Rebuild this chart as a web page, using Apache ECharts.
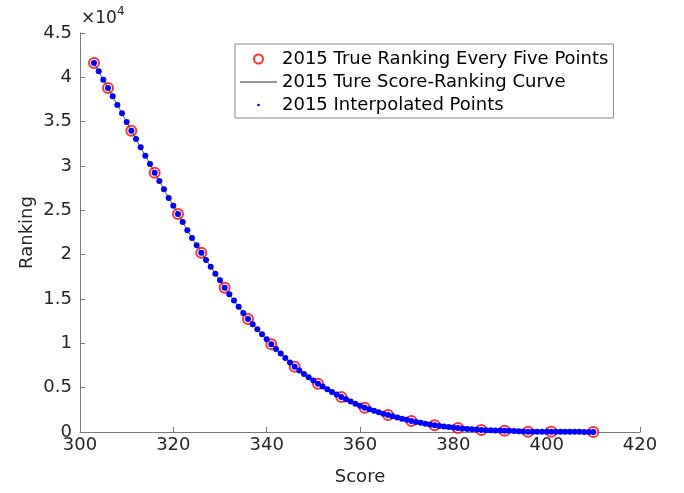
<!DOCTYPE html>
<html lang="en">

<head>
    <meta charset="UTF-8">
    <title>Score-Ranking 2015</title>
    <script src="https://cdn.jsdelivr.net/npm/echarts@6/dist/echarts.min.js"></script>
    <style>
        body { margin: 0; background: #fff; }
    </style>
</head>

<body>
    <div id="main" style="width: 684px;height:493px;"></div>

    <script type="text/javascript">
        // every score from 303 to 410 (interpolated points)
        var scores = [
            303, 304, 305, 306, 307, 308, 309, 310, 311, 312, 313, 314, 315, 316, 317, 318, 319, 320,
            321, 322, 323, 324, 325, 326, 327, 328, 329, 330, 331, 332, 333, 334, 335, 336, 337, 338,
            339, 340, 341, 342, 343, 344, 345, 346, 347, 348, 349, 350, 351, 352, 353, 354, 355, 356,
            357, 358, 359, 360, 361, 362, 363, 364, 365, 366, 367, 368, 369, 370, 371, 372, 373, 374,
            375, 376, 377, 378, 379, 380, 381, 382, 383, 384, 385, 386, 387, 388, 389, 390, 391, 392,
            393, 394, 395, 396, 397, 398, 399, 400, 401, 402, 403, 404, 405, 406, 407, 408, 409, 410
        ];
        var ranks = [
            41610, 40680, 39730, 38800, 37860, 36880, 35940, 34960, 33980, 33040, 32110, 31160, 30220, 29240, 28310, 27370, 26390, 25520,
            24590, 23680, 22750, 21880, 21050, 20220, 19400, 18640, 17850, 17110, 16270, 15540, 14820, 14120, 13420, 12740, 12150, 11580,
            11020, 10450, 9890, 9360, 8850, 8350, 7850, 7360, 6950, 6550, 6170, 5800, 5450, 5130, 4820, 4520, 4230, 3950,
            3700, 3450, 3200, 2960, 2740, 2560, 2390, 2220, 2060, 1920, 1780, 1640, 1500, 1370, 1240, 1140, 1040, 940,
            850, 760, 690, 620, 560, 500, 450, 400, 350, 310, 270, 230, 210, 190, 180, 160, 150, 130,
            110, 90, 60, 40, 40, 35, 30, 30, 30, 28, 25, 22, 20, 18, 15, 12, 10, 10
        ];

        // true ranking, every five points
        var trueScores = [303, 306, 311, 316, 321, 326, 331, 336, 341, 346, 351, 356, 361, 366, 371, 376, 381, 386, 391, 396, 401, 410];
        var trueRanks = [41610, 38800, 33980, 29240, 24590, 20220, 16270, 12740, 9890, 7360, 5450, 3950, 2740, 1920, 1240, 760, 450, 230, 150, 40, 30, 10];

        var xTicks = [300, 320, 340, 360, 380, 400, 420];
        var yTicks = [0, 5000, 10000, 15000, 20000, 25000, 30000, 35000, 40000, 45000];

        var names = ['2015 True Ranking Every Five Points', '2015 Ture Score-Ranking Curve', '2015 Interpolated Points'];

        function pairs(xs, ys) {
            return xs.map(function (x, i) { return [x, ys[i]]; });
        }

        var myChart = echarts.init(document.getElementById('main'));
        var font = 'DejaVu Sans';
        var axisGray = '#7a7a7a';

        var option = {
            animation: false,
            backgroundColor: '#fff',
            // axis multiplier label, MATLAB style
            title: {
                text: '{a|×10}{b|4}',
                left: 76,
                top: 1,
                textStyle: {
                    rich: {
                        a: { fontFamily: font, fontSize: 17, color: '#262626', fontStyle: 'normal', fontWeight: 'normal', verticalAlign: 'bottom' },
                        b: { fontFamily: font, fontSize: 12, color: '#262626', fontStyle: 'normal', fontWeight: 'normal', padding: [0, 0, 9, 0], verticalAlign: 'bottom' }
                    }
                }
            },
            grid: { left: 80, right: 44, top: 33, bottom: 61 },
            legend: {
                left: 235,
                top: 44,
                orient: 'vertical',
                itemWidth: 37,
                itemHeight: 9,
                itemGap: 5,
                padding: [6, 5, 4, 5],
                borderColor: '#8a8a8a',
                borderWidth: 1,
                textStyle: { fontFamily: font, fontSize: 18, lineHeight: 17, color: '#000' },
                data: [
                    { name: names[0], icon: 'emptyCircle', itemStyle: { color: '#ff0000', borderColor: '#ff0000', borderWidth: 1 } },
                    { name: names[1], icon: 'path://M0,0h37v1h-37z', itemStyle: { color: '#333' } },
                    { name: names[2], icon: 'path://M0,0M10,10M3.5,5a1.5,1.5 0 1,0 3,0a1.5,1.5 0 1,0 -3,0z', itemStyle: { color: '#0000ff' } }
                ]
            },
            xAxis: {
                type: 'value',
                min: xTicks[0],
                max: xTicks[xTicks.length - 1],
                interval: 20,
                name: 'Score',
                nameLocation: 'middle',
                nameGap: 36,
                nameTextStyle: { fontFamily: font, fontSize: 18, color: '#262626' },
                axisLine: { lineStyle: { color: axisGray, width: 1 } },
                axisTick: { inside: true, length: 5, lineStyle: { color: axisGray } },
                axisLabel: { fontFamily: font, fontSize: 18, color: '#262626', margin: 4 },
                splitLine: { show: false }
            },
            yAxis: {
                type: 'value',
                min: yTicks[0],
                max: yTicks[yTicks.length - 1],
                interval: 5000,
                name: 'Ranking',
                nameLocation: 'middle',
                nameGap: 44,
                nameMoveOverlap: false,
                nameTextStyle: { fontFamily: font, fontSize: 18, color: '#262626' },
                axisLine: { show: true, lineStyle: { color: axisGray, width: 1 } },
                axisTick: { show: true, inside: true, length: 5, lineStyle: { color: axisGray } },
                axisLabel: {
                    fontFamily: font, fontSize: 18, color: '#262626', margin: 8,
                    formatter: function (v) { return String(v / 10000); }
                },
                splitLine: { show: false }
            },
            series: [
                {
                    name: names[0],
                    type: 'scatter',
                    symbol: 'emptyCircle',
                    symbolSize: 10,
                    itemStyle: { color: '#ff0000', borderColor: '#ff0000', borderWidth: 1 },
                    data: pairs(trueScores, trueRanks),
                    z: 2
                },
                {
                    name: names[1],
                    type: 'line',
                    symbol: 'none',
                    lineStyle: { color: '#333', width: 0.8 },
                    itemStyle: { color: '#333' },
                    data: pairs(scores, ranks),
                    z: 3
                },
                {
                    name: names[2],
                    type: 'scatter',
                    symbol: 'circle',
                    symbolSize: 6,
                    itemStyle: { color: '#0000ff', opacity: 1 },
                    data: pairs(scores, ranks),
                    z: 4
                }
            ]
        };

        myChart.setOption(option);
    </script>
</body>

</html>
